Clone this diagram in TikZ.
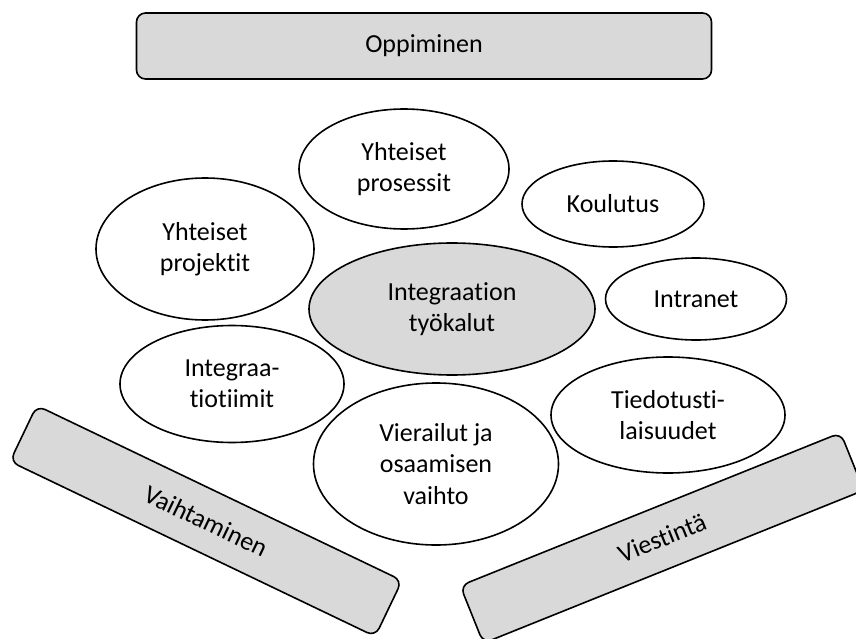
\documentclass[tikz,border=0pt]{standalone}
\usepackage{fontspec}
\setmainfont{Carlito}[Ligatures=NoCommon]
\usetikzlibrary{shapes.geometric}
\definecolor{harmaa}{HTML}{D9D9D9}

\begin{document}
\begin{tikzpicture}[x=1pt, y=-1pt, line width=1.6pt,
	every node/.style={font=\fontsize{26}{31.5}\selectfont, align=center, inner sep=0pt},
	kupla/.style={draw, ellipse, fill=white},
	palkki/.style={draw, rectangle, rounded corners=9pt, fill=harmaa}]
	% 1. Kehys
	\useasboundingbox (0,0) rectangle (856,639);
	
	% 2. Yläpalkki
	\node[palkki, minimum width=575pt, minimum height=66pt] (oppiminen) at (424,46) {Oppiminen};
	
	% 3. Kuplat
	\node[kupla, minimum width=210pt, minimum height=120pt] (prosessit) at (404,169) {Yhteiset\\prosessit};
	\node[kupla, minimum width=182pt, minimum height=86pt] (koulutus) at (613,204) {Koulutus};
	\node[kupla, minimum width=218pt, minimum height=142pt] (projektit) at (205,249) {Yhteiset\\projektit};
	\node[kupla, fill=harmaa, minimum width=286pt, minimum height=132pt] (tyokalut) at (452,309) {Integraation\\työkalut};
	\node[kupla, minimum width=181pt, minimum height=82pt] (intranet) at (696,299) {Intranet};
	\node[kupla, minimum width=224pt, minimum height=117pt] (tiimit) at (232,384) {Integraa-\\tiotiimit};
	\node[kupla, minimum width=234pt, minimum height=116pt] (tiedotus) at (668,415) {Tiedotusti-\\laisuudet};
	\node[kupla, minimum width=245pt, minimum height=162pt] (vierailut) at (436,464) {Vierailut ja\\osaamisen\\vaihto};
	
	% 4. Kallistetut palkit
	\node[palkki, rotate=-25.6, minimum width=405pt, minimum height=62pt] (vaihtaminen) at (206,521) {Vaihtaminen};
	\node[palkki, rotate=21.9, minimum width=410pt, minimum height=62pt] (viestinta) at (662,538) {Viestintä};
\end{tikzpicture}
\end{document}
